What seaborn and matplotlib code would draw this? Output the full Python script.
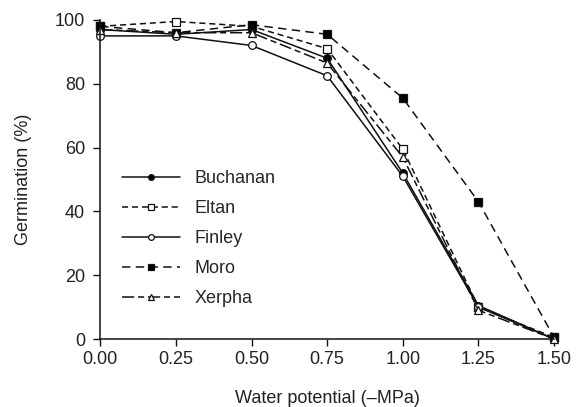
import pandas as pd
import seaborn as sns
import matplotlib.pyplot as plt

# water potential (-MPa) and germination (%) per cultivar
potential = [0.00, 0.25, 0.50, 0.75, 1.00, 1.25, 1.50]
buchanan = [97, 95.5, 97, 88, 52, 10.5, 0]
eltan = [98, 99.5, 98, 91, 59.5, 10, 0.5]
finley = [95, 95, 92, 82.5, 51, 10, 0]
moro = [98, 96, 98.5, 95.5, 75.5, 43, 0.5]
xerpha = [97, 96, 96, 86.5, 57, 9, 0]

cultivars = ["Buchanan", "Eltan", "Finley", "Moro", "Xerpha"]
values = [buchanan, eltan, finley, moro, xerpha]

# line / marker style for each cultivar
styles = {
    "Buchanan": dict(ls="-", marker="o", mfc="black"),
    "Eltan": dict(ls=(0, (4, 2.5)), marker="s", mfc="white"),
    "Finley": dict(ls="-", marker="o", mfc="white"),
    "Moro": dict(ls=(0, (5.5, 3.5)), marker="s", mfc="black"),
    "Xerpha": dict(ls=(0, (8, 2.5, 4, 2.5)), marker="^", mfc="white"),
}

sns.set_style("ticks")
plt.rcParams["font.family"] = ["Liberation Sans", "DejaVu Sans"]

fig = plt.figure(figsize=(5.76, 4.07), dpi=100)
ax = fig.add_axes([0.174, 0.167, 0.788, 0.784])

for name, vals in zip(cultivars, values):
    df = pd.DataFrame({"x": potential, "y": vals})
    st = styles[name]
    sns.lineplot(data=df, x="x", y="y", ax=ax, color="#111111", lw=1.1,
                 linestyle=st["ls"], marker=st["marker"], markersize=5.5,
                 markerfacecolor=st["mfc"], markeredgecolor="#111111",
                 markeredgewidth=0.9, label=name, clip_on=False)

ax.set_xlim(0, 1.5)
ax.set_ylim(0, 100)
ax.set_xticks(potential)
ax.set_xticklabels([f"{v:.2f}" for v in potential])
ax.set_yticks([0, 20, 40, 60, 80, 100])
ax.tick_params(labelsize=13, length=5, width=1, color="#111111", labelcolor="#222222")
ax.tick_params(axis="y", pad=6)
for s in ["left", "bottom"]:
    ax.spines[s].set_linewidth(1.1)
    ax.spines[s].set_color("#111111")
sns.despine(ax=ax)

ax.set_xlabel("Water potential (\u2013MPa)", fontsize=13, color="#222222", labelpad=16)
ax.set_ylabel("Germination (%)", fontsize=13, color="#222222", labelpad=16)

ax.legend(loc="lower left", bbox_to_anchor=(0.013, 0.05), frameon=False,
          fontsize=13, handlelength=3.2, labelspacing=0.72, markerscale=0.75)

fig.savefig("out.png", dpi=100)
